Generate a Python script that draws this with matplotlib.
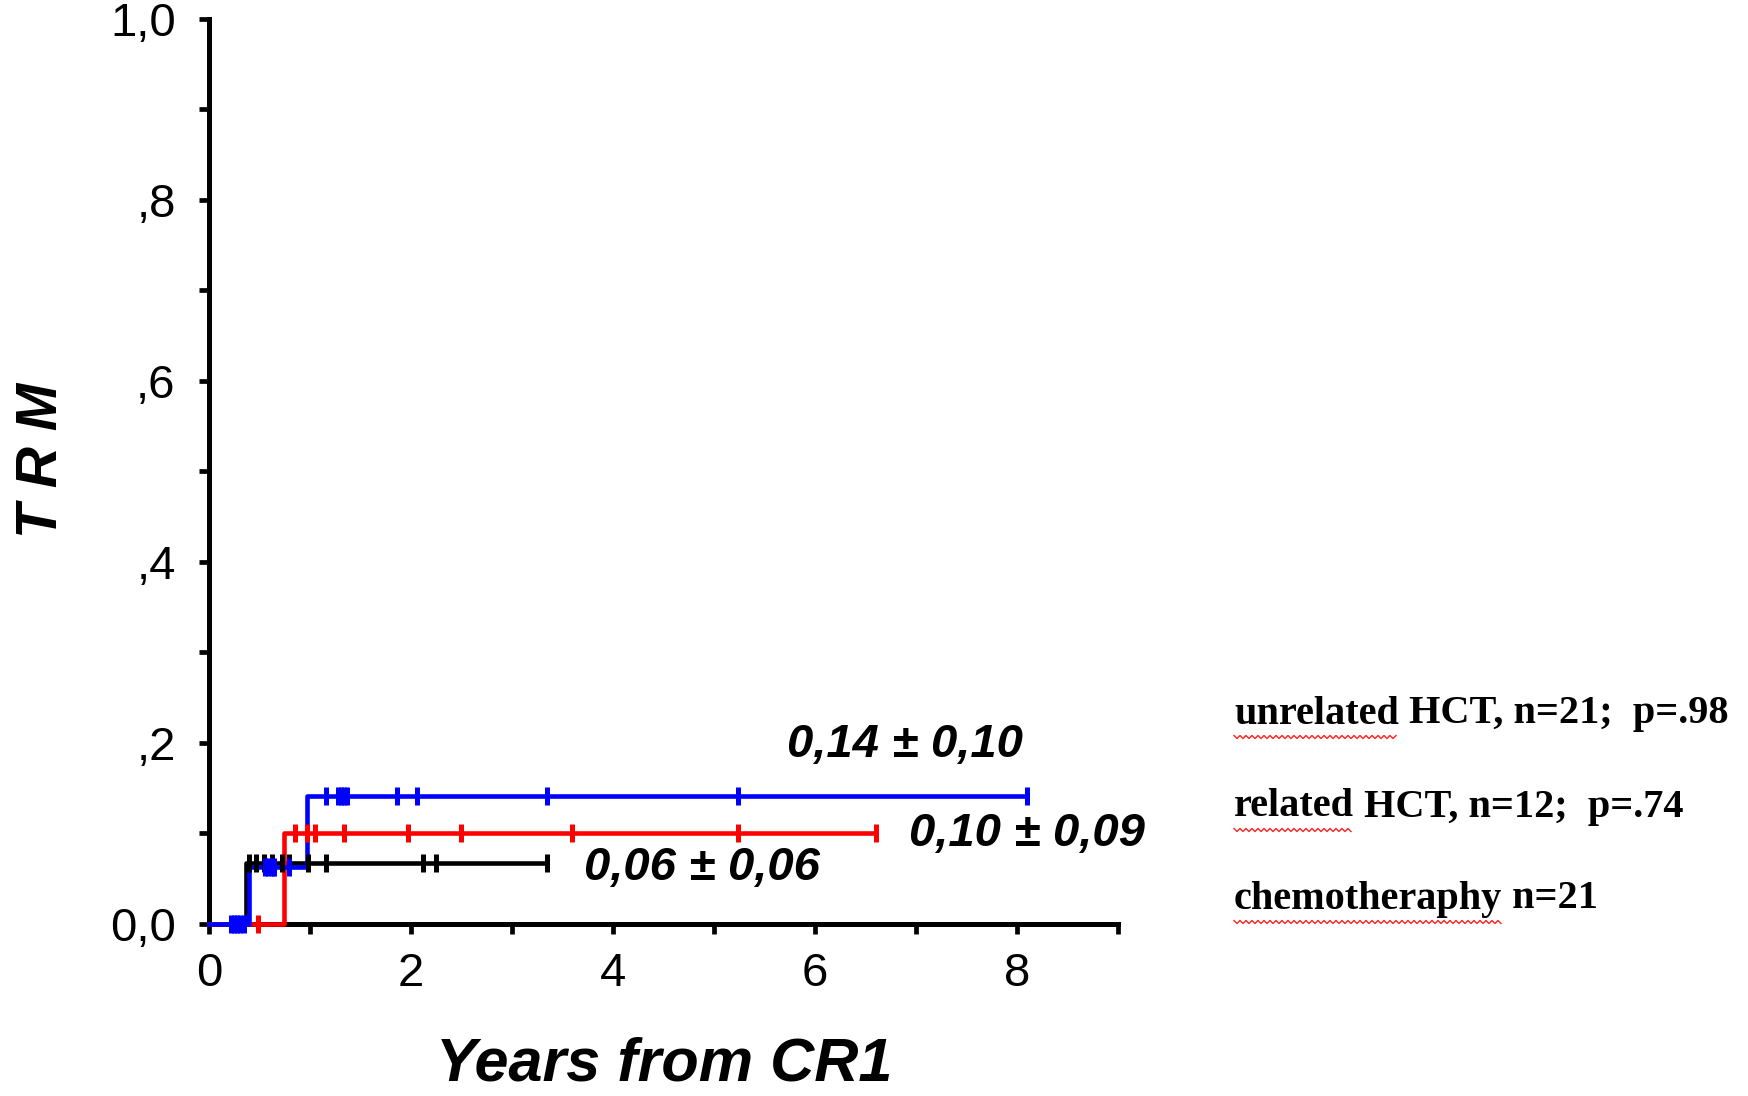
import matplotlib
matplotlib.use("Agg")
import matplotlib.pyplot as plt
import numpy as np

# ======================
# DATA
# ======================
# unrelated HCT (blue)
unrel_steps_t = [0, 0.40, 0.97, 8.10]
unrel_steps_y = [0, 0.063, 0.141, 0.141]
unrel_cens_t = [0.22, 0.25, 0.28, 0.31, 0.35,
                0.55, 0.58, 0.62, 0.64, 0.79,
                1.16, 1.28, 1.31, 1.34, 1.37, 1.86, 2.06, 3.35, 5.24, 8.10]
unrel_cens_y = [0] * 5 + [0.063] * 5 + [0.141] * 10

# related HCT (red)
rel_steps_t = [0, 0.74, 6.61]
rel_steps_y = [0, 0.10, 0.10]
rel_cens_t = [0.49, 0.85, 0.97, 1.05, 1.34, 1.97, 2.50, 3.60, 5.24, 6.61]
rel_cens_y = [0] + [0.10] * 9

# chemotherapy (black)
chemo_steps_t = [0, 0.37, 3.35]
chemo_steps_y = [0, 0.067, 0.067]
chemo_cens_t = [0.40, 0.47, 0.54, 0.62, 0.72, 0.79, 0.98, 1.16, 2.12, 2.25, 3.35]
chemo_cens_y = [0.067] * 11

annot_text = ["0,14 \u00b1 0,10", "0,10 \u00b1 0,09", "0,06 \u00b1 0,06"]
annot_x = [5.73, 6.93, 3.71]
annot_y = [0.198, 0.0995, 0.062]

yticks = [0, 0.2, 0.4, 0.6, 0.8, 1.0]
ytick_labels = ["0,0", ",2", ",4", ",6", ",8", "1,0"]
xticks = [0, 2, 4, 6, 8]

legend_words = ["unrelated", "related", "chemotheraphy"]
legend_rest = [" HCT, n=21;  p=.98", " HCT, n=12;  p=.74", " n=21"]

# ======================
# PLOT
# ======================
fig = plt.figure(figsize=(17.49, 10.96), dpi=100)
ax = fig.add_axes([0.1195, 0.157, 0.639 - 0.1195, 0.9827 - 0.157])

series = [
    (chemo_steps_t, chemo_steps_y, chemo_cens_t, chemo_cens_y, "black"),
    (rel_steps_t, rel_steps_y, rel_cens_t, rel_cens_y, "#ff0000"),
    (unrel_steps_t, unrel_steps_y, unrel_cens_t, unrel_cens_y, "#0000ff"),
]
for st, sy, ct, cy, col in series:
    ax.plot(st, sy, drawstyle="steps-post", color=col, lw=3.3, zorder=3, clip_on=False)
    ax.plot(ct, cy, ls="none", marker="|", ms=13, mew=3.6, color=col, zorder=4, clip_on=False)

for t, x, y in zip(annot_text, annot_x, annot_y):
    ax.text(x, y, t, fontsize=34, fontweight="bold", fontstyle="italic",
            family="Liberation Sans", ha="left", va="center")

ax.set_xlim(0, 9)
ax.set_ylim(0, 1)
for s in ["top", "right"]:
    ax.spines[s].set_visible(False)
for s in ["left", "bottom"]:
    ax.spines[s].set_linewidth(3.6)
    ax.spines[s].set_zorder(2)

ax.set_xticks(np.arange(0, 10, 1), minor=True)
ax.set_xticks(xticks)
ax.set_xticklabels([str(v) for v in xticks])
ax.set_yticks(np.arange(0, 1.01, 0.1), minor=True)
ax.set_yticks(yticks)
ax.set_yticklabels(ytick_labels)
ax.tick_params(which="both", direction="out", length=7, width=3.4, color="black")
ax.tick_params(axis="x", which="major", labelsize=34, pad=13)
ax.tick_params(axis="y", which="major", labelsize=34, pad=17)
for lab in ax.get_xticklabels() + ax.get_yticklabels():
    lab.set_family("Liberation Sans")

fig.text(0.380, 0.014, "Years from CR1", fontsize=44, fontweight="bold", fontstyle="italic",
         family="Liberation Sans", ha="center", va="baseline")
fig.text(0.024, 0.580, "T R M", fontsize=41, fontweight="bold", fontstyle="italic",
         family="Liberation Sans", ha="center", va="center", rotation=90)

# ======================
# LEGEND TEXT WITH SPELL-CHECK UNDERLINE
# ======================
leg_x = 1234 / 1749
leg_y = [1 - 714 / 1096, 1 - 807 / 1096, 1 - 899 / 1096]
renderer = fig.canvas.get_renderer()
for w, r, y in zip(legend_words, legend_rest, leg_y):
    t1 = fig.text(leg_x, y, w, fontsize=29, fontweight="bold", family="Liberation Serif",
                  ha="left", va="center")
    bb = t1.get_window_extent(renderer)
    x_end = bb.x1 / fig.bbox.width
    fig.text(x_end, y, r, fontsize=29, fontweight="bold", family="Liberation Serif",
             ha="left", va="center")
    # wavy red underline
    xs = np.arange(bb.x0, bb.x1, 3.0)
    ys = bb.y0 - 3 + np.where(np.arange(len(xs)) % 2 == 0, 0, -3)
    fig.add_artist(plt.Line2D(xs / fig.bbox.width, ys / fig.bbox.height,
                              color="#ff2020", lw=1.0, transform=fig.transFigure))

fig.savefig("out.png", dpi=100)
